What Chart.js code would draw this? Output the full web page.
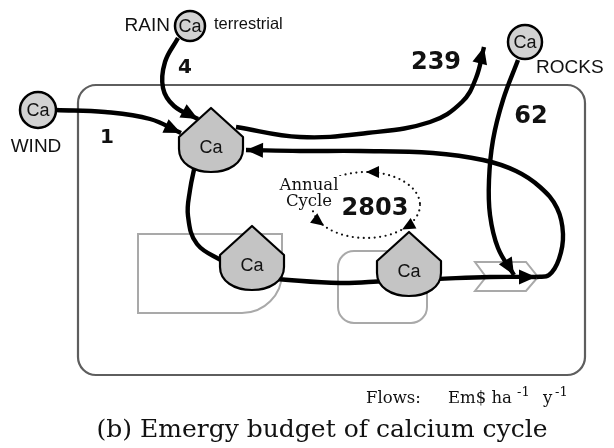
<!DOCTYPE html>
<html lang="en">
<head>
<meta charset="utf-8">
<title>Emergy budget of calcium cycle</title>
<script src="https://cdn.jsdelivr.net/npm/chart.js@4.4.0/dist/chart.umd.min.js"></script>
<style>
  html, body { margin: 0; padding: 0; background: #fff; }
  #wrap { width: 614px; height: 448px; }
</style>
</head>
<body>
<div id="wrap"><canvas id="cycle"></canvas></div>
<script>
// flows in Em$ ha-1 y-1
const flowNames  = ['wind', 'rain', 'export', 'rocks', 'cycle'];
const flowValues = [1, 4, 239, 62, 2803];

// sources outside the system
const sourceNames = ['WIND', 'RAIN', 'ROCKS'];
const sourceX = [38, 190, 525];
const sourceY = [110, 26, 42];

// calcium storages (tip of each tank)
const tankX = [211, 252, 409];
const tankY = [108, 226, 232];

// flow pathways, drawn as curves through the scales
const windPath    = [[56, 110], [105, 112], [150, 119], [181, 133]];
const rainPath    = [[178, 38], [165, 62], [163, 88], [174, 106], [198, 119]];
const exportPath  = [[236, 127], [300, 137], [367, 133], [430, 122], [462, 102], [476, 78], [484, 47]];
const rocksPath   = [[518, 60], [503, 100], [493, 140], [489, 180], [490, 215], [498, 248], [514, 275]];
const downPath    = [[195, 165], [190, 190], [188, 216], [197, 244], [224, 262]];
const mainPath    = [[275, 279], [340, 283], [385, 281]];
const outPath     = [[436, 279], [490, 277], [536, 277]];
const recyclePath = [[536, 277], [549, 275], [559, 259], [563, 234], [557, 208], [540, 187], [516, 171], [483, 160], [433, 153], [360, 151], [300, 151], [246, 150]];

const toXY = p => p.map(d => ({ x: d[0], y: d[1] }));

function flowSet(path, arrow) {
    return {
        type: 'scatter',
        data: toXY(path),
        showLine: true,
        borderColor: '#000',
        borderWidth: 4.4,
        pointRadius: 0,
        tension: 0.4,
        arrow: arrow,
        order: 2
    };
}

function arrowHead(ctx, x, y, ang, len, half) {
    ctx.save();
    ctx.translate(x, y);
    ctx.rotate(ang);
    ctx.beginPath();
    ctx.moveTo(0, 0);
    ctx.lineTo(-len, -half);
    ctx.lineTo(-len, half);
    ctx.closePath();
    ctx.fillStyle = '#000';
    ctx.fill();
    ctx.restore();
}

function roundRect(ctx, x1, y1, x2, y2, r) {
    ctx.beginPath();
    ctx.moveTo(x1 + r, y1);
    ctx.lineTo(x2 - r, y1);
    ctx.arcTo(x2, y1, x2, y1 + r, r);
    ctx.lineTo(x2, y2 - r);
    ctx.arcTo(x2, y2, x2 - r, y2, r);
    ctx.lineTo(x1 + r, y2);
    ctx.arcTo(x1, y2, x1, y2 - r, r);
    ctx.lineTo(x1, y1 + r);
    ctx.arcTo(x1, y1, x1 + r, y1, r);
    ctx.closePath();
}

// system frame and gray background symbols
const backdrop = {
    id: 'backdrop',
    beforeDatasetsDraw(chart) {
        const ctx = chart.ctx;
        const X = v => chart.scales.x.getPixelForValue(v);
        const Y = v => chart.scales.y.getPixelForValue(v);
        ctx.save();
        ctx.lineWidth = 2.2;
        ctx.strokeStyle = '#5e5e5e';
        roundRect(ctx, X(78), Y(85), X(585), Y(375), 18);
        ctx.stroke();

        ctx.lineWidth = 2;
        ctx.strokeStyle = '#a9a9a9';
        // producer
        ctx.beginPath();
        ctx.moveTo(X(138), Y(234));
        ctx.lineTo(X(282), Y(234));
        ctx.lineTo(X(282), Y(273));
        ctx.arc(X(242), Y(273), 40, 0, Math.PI / 2);
        ctx.lineTo(X(138), Y(313));
        ctx.closePath();
        ctx.stroke();
        // consumer
        roundRect(ctx, X(338), Y(251), X(427), Y(323), 16);
        ctx.stroke();
        // exchange chevron
        ctx.beginPath();
        ctx.moveTo(X(475), Y(262));
        ctx.lineTo(X(526), Y(262));
        ctx.lineTo(X(538), Y(277));
        ctx.lineTo(X(526), Y(291));
        ctx.lineTo(X(475), Y(291));
        ctx.lineTo(X(486), Y(277));
        ctx.closePath();
        ctx.stroke();

        // annual cycle, dotted
        const cx = X(366), cy = Y(205), rx = 54, ry = 33;
        ctx.strokeStyle = '#111';
        ctx.lineWidth = 2.2;
        ctx.lineCap = 'round';
        ctx.setLineDash([0, 5.5]);
        ctx.beginPath();
        ctx.ellipse(cx, cy, rx, ry, 0, 0, Math.PI * 2);
        ctx.stroke();
        ctx.setLineDash([]);
        const marks = [[-90, -1], [141, -1], [48, 1]];
        marks.forEach(m => {
            const t = m[0] * Math.PI / 180;
            const dx = -rx * Math.sin(t) * m[1], dy = ry * Math.cos(t) * m[1];
            arrowHead(ctx, cx + rx * Math.cos(t), cy + ry * Math.sin(t), Math.atan2(dy, dx), 13, 6);
        });

        // label sits over the dotted loop
        ctx.font = '16.5px "DejaVu Serif", serif';
        ctx.textAlign = 'center';
        ctx.fillStyle = '#fff';
        ctx.fillRect(X(276), Y(176), 66, 33);
        ctx.fillStyle = '#111';
        ctx.fillText('Annual', X(309), Y(190));
        ctx.fillText('Cycle', X(309), Y(206));
        ctx.restore();
    }
};

// tanks, arrowheads and labels
const overlay = {
    id: 'overlay',
    afterDatasetsDraw(chart) {
        const ctx = chart.ctx;
        const X = v => chart.scales.x.getPixelForValue(v);
        const Y = v => chart.scales.y.getPixelForValue(v);
        ctx.save();

        tankX.forEach((tx, i) => {
            const cx = X(tx), top = Y(tankY[i]);
            ctx.beginPath();
            ctx.moveTo(cx, top);
            ctx.lineTo(cx + 32, top + 29);
            ctx.lineTo(cx + 32, top + 41);
            ctx.bezierCurveTo(cx + 32, top + 55, cx + 18, top + 64, cx, top + 64);
            ctx.bezierCurveTo(cx - 18, top + 64, cx - 32, top + 55, cx - 32, top + 41);
            ctx.lineTo(cx - 32, top + 29);
            ctx.closePath();
            ctx.fillStyle = '#c4c4c4';
            ctx.fill();
            ctx.lineWidth = 2.2;
            ctx.strokeStyle = '#000';
            ctx.lineJoin = 'round';
            ctx.stroke();
            ctx.fillStyle = '#111';
            ctx.font = '18px "Liberation Sans", Arial, sans-serif';
            ctx.textAlign = 'center';
            ctx.textBaseline = 'middle';
            ctx.fillText('Ca', cx, top + 40);
        });

        chart.data.datasets.forEach((ds, i) => {
            if (!ds.arrow) return;
            const pts = chart.getDatasetMeta(i).data;
            const last = pts[pts.length - 1];
            let bx = last.cp1x, by = last.cp1y;
            if (bx === undefined || (Math.abs(bx - last.x) < 0.5 && Math.abs(by - last.y) < 0.5)) {
                bx = pts[pts.length - 2].x; by = pts[pts.length - 2].y;
            }
            arrowHead(ctx, last.x, last.y, Math.atan2(last.y - by, last.x - bx), 17, 7.5);
        });

        // source circles text
        ctx.fillStyle = '#111';
        ctx.textAlign = 'center';
        ctx.textBaseline = 'middle';
        ctx.font = '18px "Liberation Sans", Arial, sans-serif';
        sourceX.forEach((sx, i) => ctx.fillText('Ca', X(sx), Y(sourceY[i]) + 1));

        ctx.font = '19px "Liberation Sans", Arial, sans-serif';
        ctx.textBaseline = 'alphabetic';
        ctx.fillText(sourceNames[0], X(36), Y(152));
        ctx.textAlign = 'right';
        ctx.fillText(sourceNames[1], X(170), Y(31));
        ctx.textAlign = 'left';
        ctx.fillText(sourceNames[2], X(536), Y(73));
        ctx.font = '16.5px "Liberation Sans", Arial, sans-serif';
        ctx.fillText('terrestrial', X(214), Y(29));

        // flow values
        const valuePos = [[107, 138, 20], [185, 68, 20], [436, 63, 24], [531, 117, 24], [375, 209, 24]];
        ctx.textAlign = 'center';
        ctx.textBaseline = 'middle';
        flowValues.forEach((v, i) => {
            const p = valuePos[i];
            ctx.font = 'bold ' + p[2] + 'px "DejaVu Sans", Verdana, sans-serif';
            ctx.fillText(String(v), X(p[0]), Y(p[1]));
        });

        // units
        ctx.textAlign = 'left';
        ctx.textBaseline = 'alphabetic';
        ctx.font = '16.5px "DejaVu Serif", serif';
        ctx.fillText('Flows:', X(366), Y(403));
        ctx.fillText('Em$ ha', X(448), Y(403));
        ctx.fillText('y', X(543), Y(403));
        ctx.font = '13px "DejaVu Serif", serif';
        ctx.fillText('-1', X(517), Y(396));
        ctx.fillText('-1', X(555), Y(396));

        ctx.font = '25px "DejaVu Serif", serif';
        ctx.textAlign = 'center';
        ctx.fillText('(b) Emergy budget of calcium cycle', X(322), Y(437));
        ctx.restore();
    }
};

const datasets = [
    {
        type: 'scatter',
        data: sourceX.map((x, i) => ({ x: x, y: sourceY[i] })),
        pointRadius: [18, 15, 17],
        pointBackgroundColor: '#d2d2d2',
        pointBorderColor: '#000',
        pointBorderWidth: 2.5,
        order: 1
    },
    flowSet(windPath, true),
    flowSet(rainPath, true),
    flowSet(exportPath, true),
    flowSet(rocksPath, true),
    flowSet(downPath, false),
    flowSet(mainPath, false),
    flowSet(outPath, true),
    flowSet(recyclePath, true)
];

new Chart(document.getElementById('cycle'), {
    type: 'scatter',
    data: { datasets: datasets },
    options: {
        responsive: true,
        maintainAspectRatio: false,
        animation: false,
        events: [],
        layout: { padding: 0, autoPadding: false },
        plugins: { legend: { display: false }, tooltip: { enabled: false } },
        scales: {
            x: { type: 'linear', min: 0, max: 614, display: false },
            y: { type: 'linear', min: 0, max: 448, reverse: true, display: false }
        }
    },
    plugins: [backdrop, overlay]
});
</script>
</body>
</html>
